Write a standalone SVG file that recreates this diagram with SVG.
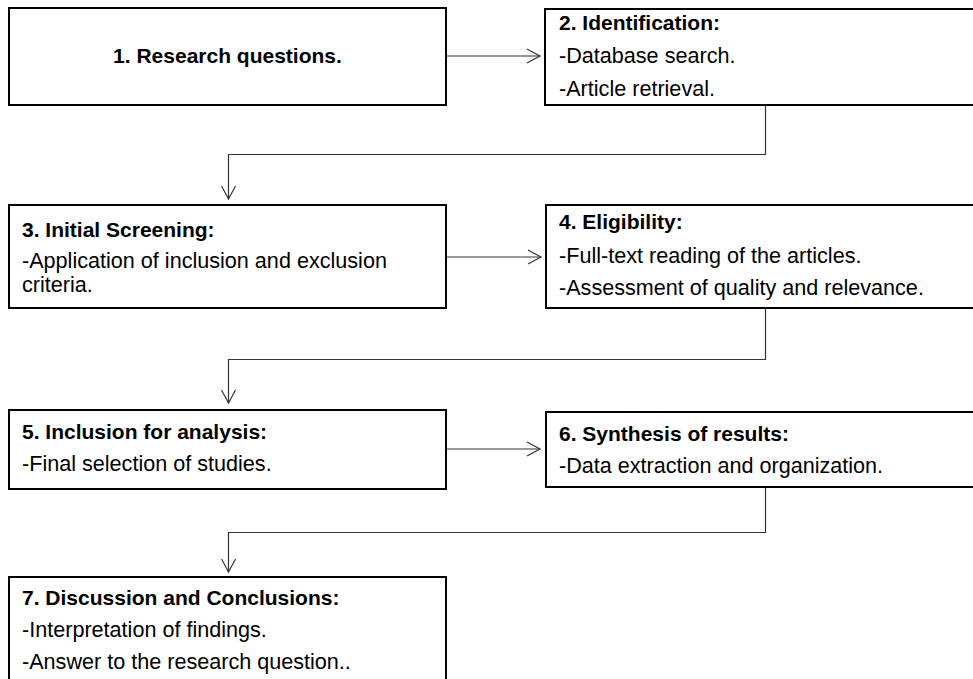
<svg xmlns="http://www.w3.org/2000/svg" width="973" height="679" viewBox="0 0 973 679">
<defs>
<style>
.box{fill:#fff;stroke:#000;stroke-width:2}
.t{font-family:"Liberation Sans",Arial,sans-serif;font-size:21.6px;fill:#000}
.h{font-family:"Liberation Sans",Arial,sans-serif;font-size:21px;font-weight:bold;fill:#000}
.c{fill:none;stroke:#333;stroke-width:1.2}
</style>
<marker id="arr" markerUnits="userSpaceOnUse" markerWidth="16" markerHeight="16" viewBox="0 0 16 16" refX="14" refY="8" orient="auto">
<path d="M1,1 L14,8 L1,15" fill="none" stroke="#333" stroke-width="1.2"/>
</marker>
</defs>
<rect width="973" height="679" fill="#fff"/>
<g id="connectors">
<path class="c" d="M446,56 H540" marker-end="url(#arr)"/>
<path class="c" d="M765.5,105 V154.5 H228.5 V199" marker-end="url(#arr)"/>
<path class="c" d="M446,257 H541" marker-end="url(#arr)"/>
<path class="c" d="M765.5,308 V359.5 H228.5 V403" marker-end="url(#arr)"/>
<path class="c" d="M446,449 H540" marker-end="url(#arr)"/>
<path class="c" d="M765.5,487 V532.5 H228.5 V572" marker-end="url(#arr)"/>
</g>
<g id="node1">
<rect class="box" x="9" y="8" width="437" height="97"/>
<text class="h" x="227.5" y="63" text-anchor="middle">1. Research questions.</text>
</g>
<g id="node2">
<rect class="box" x="545" y="9" width="440" height="96"/>
<text class="h" x="559" y="30">2. Identification:</text>
<text class="t" x="559" y="63">-Database search.</text>
<text class="t" x="559" y="96">-Article retrieval.</text>
</g>
<g id="node3">
<rect class="box" x="9" y="205" width="437" height="103"/>
<text class="h" x="22" y="237">3. Initial Screening:</text>
<text class="t" x="22" y="268">-Application of inclusion and exclusion</text>
<text class="t" x="22" y="292">criteria.</text>
</g>
<g id="node4">
<rect class="box" x="546" y="205" width="440" height="103"/>
<text class="h" x="559" y="229">4. Eligibility:</text>
<text class="t" x="559" y="263">-Full-text reading of the articles.</text>
<text class="t" x="559" y="295">-Assessment of quality and relevance.</text>
</g>
<g id="node5">
<rect class="box" x="9" y="410" width="437" height="79"/>
<text class="h" x="22" y="439">5. Inclusion for analysis:</text>
<text class="t" x="22" y="471">-Final selection of studies.</text>
</g>
<g id="node6">
<rect class="box" x="546" y="412" width="440" height="75"/>
<text class="h" x="559" y="441">6. Synthesis of results:</text>
<text class="t" x="559" y="473">-Data extraction and organization.</text>
</g>
<g id="node7">
<rect class="box" x="9" y="577" width="437" height="120"/>
<text class="h" x="22" y="605">7. Discussion and Conclusions:</text>
<text class="t" x="22" y="637">-Interpretation of findings.</text>
<text class="t" x="22" y="669">-Answer to the research question..</text>
</g>
</svg>
